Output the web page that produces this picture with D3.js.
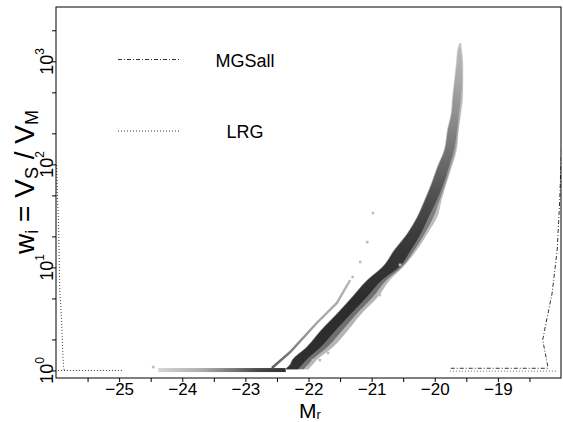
<!DOCTYPE html>
<html>
<head>
<meta charset="utf-8">
<script src="https://cdn.jsdelivr.net/npm/d3@7"></script>
<style>
  body { margin: 0; background: #ffffff; }
  svg text { font-family: "Liberation Sans", Arial, Helvetica, sans-serif; fill: #000; }
</style>
</head>
<body>
<svg id="chart" width="563" height="422"></svg>
<script>
// ---- axis ticks ----
const xTickValues = [-25.5, -25, -24.5, -24, -23.5, -23, -22.5, -22, -21.5, -21, -20.5, -20, -19.5, -19, -18.5];
const xTickLabels = [-25, -24, -23, -22, -21, -20, -19];
const yTickValues = [1, 2, 5, 10, 20, 50, 100, 200, 500, 1000, 2000];
const yDecadeExponents = [0, 1, 2, 3];

// ---- main locus of the w_i vs M_r distribution (rows of increasing w) ----
const bandW         = [1.03, 1.13, 1.26, 1.69, 2.47, 3.61, 5.16, 7.55, 10.1, 14.8, 21.6, 30.8, 45.1, 65.9, 94.2, 138, 215, 315, 451, 658, 962, 1288, 1506];
const bandCoreLeft  = [-22.36, -22.29, -22.25, -22.02, -21.79, -21.53, -21.30, -21.06, -20.82, -20.63, -20.42, -20.27, -20.15, -20.04, -19.95, -19.84, -19.79, -19.73, -19.71, -19.68, -19.65, -19.63, -19.60];
const bandCoreRight = [-22.15, -22.09, -22.02, -21.79, -21.55, -21.30, -21.06, -20.82, -20.55, -20.36, -20.20, -20.08, -19.95, -19.84, -19.76, -19.68, -19.63, -19.60, -19.57, -19.55, -19.55, -19.57, -19.58];
const bandTailRight = [-22.00, -21.94, -21.87, -21.61, -21.37, -21.15, -20.90, -20.71, -20.50, -20.28, -20.11, -19.96, -19.89, -19.81, -19.73, -19.65, -19.62, -19.58, -19.55, -19.55, -19.55, -19.57, -19.58];
const bandDensity   = [0.95, 0.95, 0.96, 0.97, 0.97, 0.97, 0.97, 0.95, 0.94, 0.92, 0.90, 0.86, 0.82, 0.76, 0.70, 0.64, 0.57, 0.51, 0.46, 0.40, 0.36, 0.33, 0.29];

// ---- w_i = 1 row (fully visible objects) ----
const floorRange = [-24.38, -22.36];
const floorW = [0.965, 1.055];
const floorStopM       = [-24.38, -23.70, -23.20, -22.80, -22.36];
const floorStopDensity = [0.20, 0.38, 0.62, 0.85, 0.95];

// ---- secondary faint sequence ----
const secM = [-22.58, -22.29, -21.87, -21.55, -21.34];
const secW = [1.057, 1.51, 2.89, 4.52, 7.55];
const secDensity = [0.75, 0.60, 0.42, 0.38, 0.34];

// ---- isolated cells ----
const sparseM = [-21.30, -21.18, -21.07, -20.98, -21.93, -21.82, -21.69, -22.02, -20.87, -20.55, -24.46];
const sparseW = [8.07, 11.3, 17.6, 33.7, 1.26, 1.26, 1.48, 1.057, 5.40, 10.6, 1.08];

// ---- marginal curves ----
const lrgM = [-25.99, -25.98, -25.96, -25.95, -25.94, -25.91, -25.89, -25.88, -25.87];
const lrgW = [98.6, 56.4, 27.0, 12.6, 6.04, 2.89, 1.35, 1.10, 1.0];
const lrgBaseM = [-25.97, -24.94];
const lrgBaseW = [1.0, 1.0];

const mgsM = [-17.99, -17.99, -18.02, -18.06, -18.14, -18.25, -18.29, -18.21, -18.21, -19.76];
const mgsW = [215, 161, 45.1, 14.8, 5.65, 2.64, 1.98, 1.10, 1.05, 1.05];
const mgsBaseM = [-19.76, -18.06];
const mgsBaseW = [0.985, 0.985];

const legendNames = ["MGSall", "LRG"];

// ---- layout ----
const svg = d3.select("#chart");
const plotLeft = 56, plotRight = 561, plotTop = 7, plotBottom = 378;

const x = d3.scaleLinear().domain([-26, -18]).range([plotLeft, plotRight]);
const y = d3.scaleLog().domain([0.845, 3365]).range([plotBottom, plotTop]);
const gray = d3.interpolateRgb("#ffffff", "#262626");

const defs = svg.append("defs");
defs.append("clipPath").attr("id", "plotClip")
  .append("rect").attr("x", plotLeft).attr("y", plotTop)
  .attr("width", plotRight - plotLeft).attr("height", plotBottom - plotTop);

const plot = svg.append("g").attr("clip-path", "url(#plotClip)");

// vertical gradients following the locus from w=1 upward
function verticalGradient(id, ws, dens, scale) {
  const y0 = y(ws[0]), y1 = y(ws[ws.length - 1]);
  const g = defs.append("linearGradient").attr("id", id)
    .attr("gradientUnits", "userSpaceOnUse")
    .attr("x1", 0).attr("x2", 0).attr("y1", y0).attr("y2", y1);
  ws.forEach((w, i) => {
    g.append("stop")
      .attr("offset", (y0 - y(w)) / (y0 - y1))
      .attr("stop-color", gray(dens[i] * scale));
  });
}
verticalGradient("bandTail", bandW, bandDensity, 0.35);
verticalGradient("bandMid", bandW, bandDensity, 0.68);
verticalGradient("bandCore", bandW, bandDensity, 1.0);
verticalGradient("secGrad", secW, secDensity, 1.0);

// w = 1 row
const floorGrad = defs.append("linearGradient").attr("id", "floorGrad")
  .attr("gradientUnits", "userSpaceOnUse")
  .attr("x1", x(floorRange[0])).attr("x2", x(floorRange[1]))
  .attr("y1", 0).attr("y2", 0);
floorStopM.forEach((m, i) => {
  floorGrad.append("stop")
    .attr("offset", (x(m) - x(floorRange[0])) / (x(floorRange[1]) - x(floorRange[0])))
    .attr("stop-color", gray(floorStopDensity[i]));
});
plot.append("rect")
  .attr("x", x(floorRange[0])).attr("y", y(floorW[1]))
  .attr("width", x(floorRange[1]) - x(floorRange[0]))
  .attr("height", y(floorW[0]) - y(floorW[1]))
  .attr("fill", "url(#floorGrad)");

// main locus: light halo, mid tone, dark core
const rows = bandW.map((w, i) => ({
  w, cl: bandCoreLeft[i], cr: bandCoreRight[i], tr: bandTailRight[i]
}));
const layers = [
  { id: "bandTail", x0: d => x(d.cl) - 1,   x1: d => x(d.tr) },
  { id: "bandMid",  x0: d => x(d.cl) - 0.5, x1: d => (x(d.cr) + x(d.tr)) / 2 },
  { id: "bandCore", x0: d => x(d.cl),       x1: d => x(d.cr) - 1 }
];
layers.forEach(l => {
  plot.append("path").datum(rows)
    .attr("fill", `url(#${l.id})`)
    .attr("d", d3.area().y(d => y(d.w)).x0(l.x0).x1(l.x1).curve(d3.curveMonotoneY));
});

// secondary sequence
plot.append("path")
  .datum(secM.map((m, i) => [m, secW[i]]))
  .attr("fill", "none")
  .attr("stroke", "url(#secGrad)")
  .attr("stroke-width", 2.4)
  .attr("d", d3.line().x(d => x(d[0])).y(d => y(d[1])));

plot.selectAll("rect.cell")
  .data(sparseM.map((m, i) => [m, sparseW[i]]))
  .join("rect").attr("class", "cell")
  .attr("x", d => x(d[0]) - 1.3).attr("y", d => y(d[1]) - 1.3)
  .attr("width", 2.6).attr("height", 2.6)
  .attr("fill", "#bdbdbd");

// marginal curves
const line = d3.line().x(d => x(d[0])).y(d => y(d[1]));
const zip = (a, b) => a.map((v, i) => [v, b[i]]);
const lrgDash = "1,2", mgsDash = "4,2,1,2";

plot.append("path").datum(zip(lrgM, lrgW)).attr("d", line)
  .attr("fill", "none").attr("stroke", "#000").attr("stroke-width", 0.8).attr("stroke-dasharray", lrgDash);
plot.append("path").datum(zip(lrgBaseM, lrgBaseW)).attr("d", line)
  .attr("fill", "none").attr("stroke", "#000").attr("stroke-width", 0.8).attr("stroke-dasharray", lrgDash);
plot.append("path").datum(zip(mgsM, mgsW)).attr("d", line)
  .attr("fill", "none").attr("stroke", "#000").attr("stroke-width", 0.8).attr("stroke-dasharray", mgsDash);
plot.append("path").datum(zip(mgsBaseM, mgsBaseW)).attr("d", line)
  .attr("fill", "none").attr("stroke", "#444").attr("stroke-width", 0.8).attr("stroke-dasharray", lrgDash);

// frame
svg.append("rect").attr("x", plotLeft).attr("y", plotTop)
  .attr("width", plotRight - plotLeft).attr("height", plotBottom - plotTop)
  .attr("fill", "none").attr("stroke", "#000").attr("stroke-width", 1);

// x axis
const xAxis = svg.append("g").attr("transform", `translate(0,${plotBottom})`)
  .call(d3.axisBottom(x).tickValues(xTickValues).tickSize(4).tickPadding(1)
    .tickFormat(d => xTickLabels.includes(d) ? "\u2212" + Math.abs(d) : ""));
xAxis.select(".domain").remove();
xAxis.selectAll("text").attr("font-size", 17).attr("font-family", null).attr("fill", "#000");
xAxis.selectAll("line").attr("stroke", "#000");

// y axis
const yAxis = svg.append("g").attr("transform", `translate(${plotLeft},0)`)
  .call(d3.axisLeft(y).tickValues(yTickValues).tickSize(4).tickFormat(""));
yAxis.select(".domain").remove();
yAxis.selectAll("line").attr("stroke", "#000");

yDecadeExponents.forEach(e => {
  const t = svg.append("text")
    .attr("transform", `translate(53,${y(Math.pow(10, e))}) rotate(-90)`)
    .attr("text-anchor", "middle")
    .attr("font-size", 18);
  t.append("tspan").text("10");
  t.append("tspan").attr("font-size", 12).attr("dy", "-0.75em").text(e);
});

// axis titles
const xt = svg.append("text").attr("x", 310).attr("y", 418)
  .attr("text-anchor", "middle").attr("font-size", 21);
xt.append("tspan").text("M");
xt.append("tspan").attr("font-size", 13).attr("dy", 1).text("r");

const yt = svg.append("text")
  .attr("transform", "translate(34,182) rotate(-90)")
  .attr("text-anchor", "middle").attr("font-size", 28);
yt.append("tspan").text("w");
yt.append("tspan").attr("font-size", 18).attr("dy", 4).text("i");
yt.append("tspan").attr("dy", -4).text(" = V");
yt.append("tspan").attr("font-size", 18).attr("dy", 4).text("S");
yt.append("tspan").attr("dy", -4).text(" / V");
yt.append("tspan").attr("font-size", 18).attr("dy", 4).text("M");

// legend
const legend = svg.append("g");
const legendY = [59.5, 131];
const legendDash = [mgsDash, lrgDash];
legendNames.forEach((name, i) => {
  legend.append("line").attr("x1", 118).attr("x2", 181)
    .attr("y1", legendY[i]).attr("y2", legendY[i])
    .attr("stroke", "#000").attr("stroke-width", 0.8)
    .attr("stroke-dasharray", legendDash[i]);
  legend.append("text").attr("x", 245).attr("y", legendY[i] + 7)
    .attr("text-anchor", "middle").attr("font-size", 18).text(name);
});
</script>
</body>
</html>
